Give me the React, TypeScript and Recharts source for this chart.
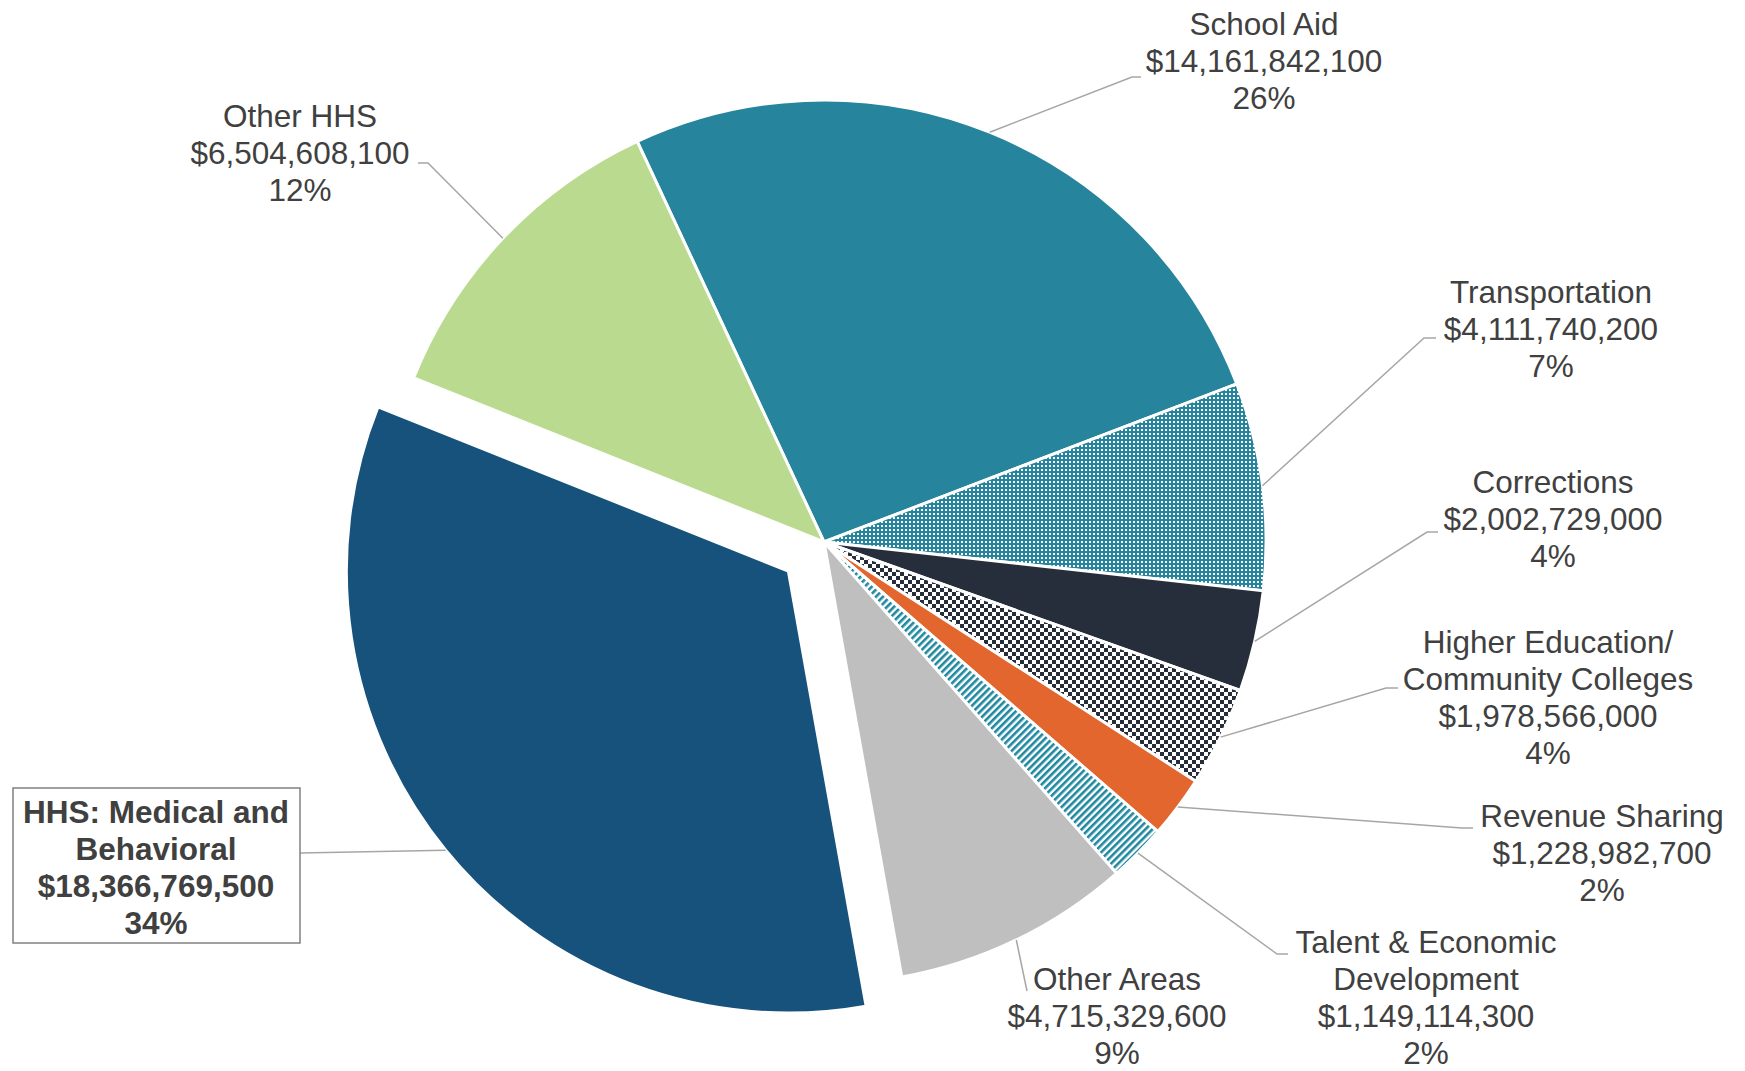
import React from "react";
import { PieChart, Pie, Cell } from "recharts";

document.body.style.margin = "0";

// Budget areas, clockwise from the School Aid slice
const categories = [
  "School Aid",
  "Transportation",
  "Corrections",
  "Higher Education/\nCommunity Colleges",
  "Revenue Sharing",
  "Talent & Economic\nDevelopment",
  "Other Areas",
  "HHS: Medical and\nBehavioral",
  "Other HHS",
];
const amounts = [
  14161842100, 4111740200, 2002729000, 1978566000, 1228982700, 1149114300,
  4715329600, 18366769500, 6504608100,
];
const percentLabels = ["26%", "7%", "4%", "4%", "2%", "2%", "9%", "34%", "12%"];

const sliceFills = [
  "#26849C",
  "url(#dotsTeal)",
  "#262E3B",
  "url(#checkNavy)",
  "#E2662E",
  "url(#stripesTeal)",
  "#BFBFBF",
  "#17527C",
  "#BADB8F",
];

// manual label placement: text centre/baseline, leader elbow, end of the short horizontal
const labelLayout = [
  { tx: 1264, ty: 35, ex: 1132, ey: 77, hx: 1141 },
  { tx: 1551, ty: 303, ex: 1424, ey: 338, hx: 1436 },
  { tx: 1553, ty: 493, ex: 1427, ey: 532, hx: 1438 },
  { tx: 1548, ty: 653, ex: 1386, ey: 688, hx: 1398 },
  { tx: 1602, ty: 827, ex: 1462, ey: 828, hx: 1473 },
  { tx: 1426, ty: 953, ex: 1277, ey: 954, hx: 1288 },
  { tx: 1117, ty: 990, ex: 1027, ey: 991, hx: 1027 },
  { tx: 156, ty: 823, ex: 300, ey: 853, hx: 300, box: [13, 788, 287, 155] },
  { tx: 300, ty: 127, ex: 428, ey: 163, hx: 418 },
];

const W = 1745;
const H = 1071;
const CX = 824;
const CY = 542;
const R = 442;
const START = 115;
const EXPLODE = 46;
const HIGHLIGHT = 7;
const LINE_H = 37;
const FONT = "'Liberation Sans', Arial, sans-serif";
const RAD = Math.PI / 180;

const total = amounts.reduce((a, b) => a + b, 0);
const before = amounts.slice(0, HIGHLIGHT).reduce((a, b) => a + b, 0);
const hiMid = START - (360 * (before + amounts[HIGHLIGHT] / 2)) / total;
const ECX = CX + EXPLODE * Math.cos(hiMid * RAD);
const ECY = CY - EXPLODE * Math.sin(hiMid * RAD);

const chartData = categories.map((name, i) => ({ name, value: amounts[i] }));

const fmt = (v: number) => "$" + v.toLocaleString("en-US");

const makeLabel = (show: (i: number) => boolean) => (props: any) => {
  const { cx, cy, midAngle, outerRadius, index } = props;
  if (!show(index)) return null;
  const lay: any = labelLayout[index];
  const sx = cx + outerRadius * Math.cos(-midAngle * RAD);
  const sy = cy + outerRadius * Math.sin(-midAngle * RAD);
  const lines = [...categories[index].split("\n"), fmt(amounts[index]), percentLabels[index]];
  const bold = index === HIGHLIGHT;
  return (
    <g key={`lbl-${index}`}>
      <polyline
        points={`${sx},${sy} ${lay.ex},${lay.ey} ${lay.hx},${lay.ey}`}
        fill="none"
        stroke="#A6A6A6"
        strokeWidth={1.5}
      />
      {lay.box && (
        <rect
          x={lay.box[0]}
          y={lay.box[1]}
          width={lay.box[2]}
          height={lay.box[3]}
          fill="#fff"
          stroke="#808080"
          strokeWidth={1.5}
        />
      )}
      <text
        textAnchor="middle"
        fill="#404040"
        fontSize={31.5}
        fontFamily={FONT}
        fontWeight={bold ? "bold" : "normal"}
      >
        {lines.map((l, k) => (
          <tspan key={k} x={lay.tx} y={lay.ty + k * LINE_H}>
            {l}
          </tspan>
        ))}
      </text>
    </g>
  );
};

export default function App() {
  return (
    <div style={{ width: W, height: H, background: "#fff" }}>
      <svg width="0" height="0" style={{ position: "absolute" }}>
        <defs>
          <pattern id="dotsTeal" width="4" height="4" patternUnits="userSpaceOnUse">
            <rect width="4" height="4" fill="#26849C" />
            <rect x="1" y="1" width="2" height="2" fill="#fff" />
          </pattern>
          <pattern id="checkNavy" width="8" height="8" patternUnits="userSpaceOnUse">
            <rect width="8" height="8" fill="#fff" />
            <rect width="4" height="4" fill="#262E3B" />
            <rect x="4" y="4" width="4" height="4" fill="#262E3B" />
          </pattern>
          <pattern
            id="stripesTeal"
            width="5"
            height="5"
            patternUnits="userSpaceOnUse"
            patternTransform="rotate(45)"
          >
            <rect width="5" height="5" fill="#fff" />
            <rect width="2.6" height="5" fill="#1E88A0" />
          </pattern>
        </defs>
      </svg>
      <PieChart width={W} height={H} margin={{ top: 0, right: 0, bottom: 0, left: 0 }}>
        <Pie
          data={chartData}
          dataKey="value"
          nameKey="name"
          cx={CX}
          cy={CY}
          outerRadius={R}
          startAngle={START}
          endAngle={START - 360}
          labelLine={false}
          label={makeLabel((i) => i !== HIGHLIGHT)}
          isAnimationActive={false}
        >
          {chartData.map((d, i) => (
            <Cell
              key={d.name}
              fill={i === HIGHLIGHT ? "none" : sliceFills[i]}
              stroke={i === HIGHLIGHT ? "none" : "#fff"}
              strokeWidth={3}
            />
          ))}
        </Pie>
        <Pie
          data={chartData}
          dataKey="value"
          nameKey="name"
          cx={ECX}
          cy={ECY}
          outerRadius={R}
          startAngle={START}
          endAngle={START - 360}
          labelLine={false}
          label={makeLabel((i) => i === HIGHLIGHT)}
          isAnimationActive={false}
        >
          {chartData.map((d, i) => (
            <Cell
              key={d.name}
              fill={i === HIGHLIGHT ? sliceFills[i] : "none"}
              stroke={i === HIGHLIGHT ? "#fff" : "none"}
              strokeWidth={3}
            />
          ))}
        </Pie>
      </PieChart>
    </div>
  );
}
